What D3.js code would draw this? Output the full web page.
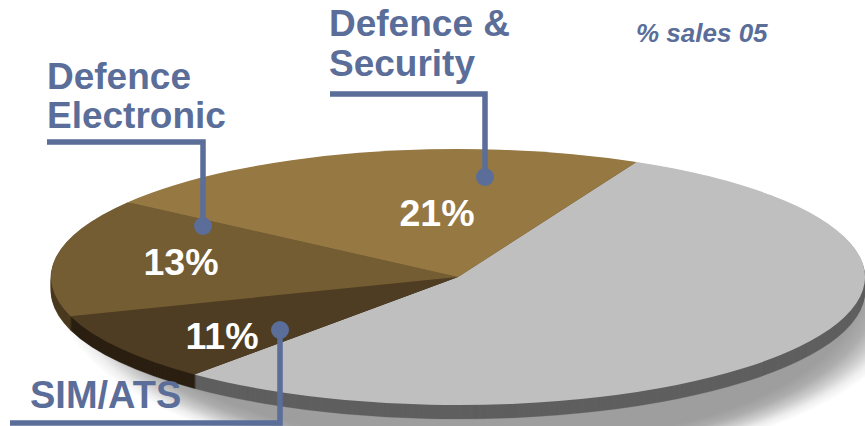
<!DOCTYPE html>
<html>
<head>
<meta charset="utf-8">
<script src="https://cdn.jsdelivr.net/npm/d3@7/dist/d3.min.js"></script>
<style>
html,body{margin:0;padding:0;background:#fff;overflow:hidden}
svg{display:block}
text{font-family:"Liberation Sans",Arial,sans-serif;font-weight:700}
</style>
</head>
<body>
<svg id="chart" width="865" height="426"></svg>
<script>
// Data, clockwise from the back-right edge of the grey slice
const categories = ["Other", "SIM/ATS", "Defence Electronic", "Defence & Security"];
const salesShare = [55, 11, 13, 21];            // printed % (grey slice is unlabelled)
const sliceSweep = [194.4, 31.8, 53.6, 80.2];   // angular width each slice occupies in the picture
const shownLabels = ["", "11%", "13%", "21%"];
const topColors = ["#bfbfbf", "#4e3d22", "#745c33", "#967843"];
const sideColors = ["#5f5f5f", "#2b2012", "#4a3a20", "#5f4c2a"];
const title = "% sales 05";

// Layout
const W = 865, H = 426, cx = 458, cy = 277, rx = 407, ry = 128, depth = 14, startDeg = 26;
const ink = "#5a6e99";
const svg = d3.select("#chart");

const defs = svg.append("defs");
const grad = defs.append("radialGradient").attr("id", "shadowFade");
[[0, 1], [0.86, 1], [0.9, 0.85], [0.94, 0.5], [0.97, 0.18], [1, 0]].forEach(s => {
  grad.append("stop").attr("offset", s[0]).attr("stop-color", "#9e9e9e").attr("stop-opacity", s[1]);
});
defs.append("clipPath").attr("id", "shadowClip")
  .append("rect").attr("x", 0).attr("y", 290).attr("width", W).attr("height", H - 290);

// Soft drop shadow under the disc, visible only below its front edge
svg.append("ellipse")
  .attr("clip-path", "url(#shadowClip)")
  .attr("cx", 488).attr("cy", 289).attr("rx", 432).attr("ry", 183)
  .attr("fill", "url(#shadowFade)");

const toRad = d3.scaleLinear().domain([0, 360]).range([0, 2 * Math.PI]);
const pie = d3.pie().sort(null).value((d, i) => sliceSweep[i])
  .startAngle(toRad(startDeg)).endAngle(toRad(startDeg + 360));
const slices = pie(categories);
const arc = d3.arc().innerRadius(0).outerRadius(rx);
const squash = ry / rx;

// Side wall: stacked copies of the wedges
d3.range(depth, 0, -1).forEach(off => {
  svg.append("g")
    .attr("transform", `translate(${cx},${cy + off}) scale(1,${squash})`)
    .selectAll("path").data(slices).join("path")
    .attr("d", arc)
    .attr("fill", (d, i) => sideColors[i])
    .attr("stroke", (d, i) => sideColors[i]).attr("stroke-width", 0.5);
});

// Top face
svg.append("g")
  .attr("transform", `translate(${cx},${cy}) scale(1,${squash})`)
  .selectAll("path").data(slices).join("path")
  .attr("d", arc)
  .attr("fill", (d, i) => topColors[i]);

// Percent labels
const labelPos = [null, [222, 349], [181, 275], [437, 226]];
svg.append("g").selectAll("text").data(shownLabels).join("text")
  .filter(d => d !== "")
  .attr("x", d => labelPos[shownLabels.indexOf(d)][0])
  .attr("y", d => labelPos[shownLabels.indexOf(d)][1])
  .attr("text-anchor", "middle").attr("font-size", 37.5).attr("fill", "#ffffff")
  .text(d => d);

// Leader lines with end dots
const leaders = [
  { pts: [[330, 94], [485, 94], [485, 177]] },
  { pts: [[47, 142], [203, 142], [203, 226]] },
  { pts: [[10, 423], [280, 423], [280, 330]] }
];
const line = d3.line();
leaders.forEach(l => {
  svg.append("path").attr("d", line(l.pts)).attr("fill", "none")
    .attr("stroke", ink).attr("stroke-width", 5.5).attr("stroke-linejoin", "miter");
  const e = l.pts[l.pts.length - 1];
  svg.append("circle").attr("cx", e[0]).attr("cy", e[1]).attr("r", 9).attr("fill", ink);
});

// Category labels
const catLabels = [
  { lines: ["Defence &", "Security"], x: 329, y: [36, 76] },
  { lines: ["Defence", "Electronic"], x: 47, y: [89, 128] },
  { lines: ["SIM/ATS"], x: 30, y: [408], size: 38 }
];
catLabels.forEach(c => c.lines.forEach((t, i) => {
  svg.append("text").attr("x", c.x).attr("y", c.y[i])
    .attr("font-size", c.size || 37).attr("fill", ink).text(t);
}));

svg.append("text").attr("x", 636).attr("y", 42)
  .attr("font-size", 26).attr("font-style", "italic").attr("fill", ink).text(title);
</script>
</body>
</html>
